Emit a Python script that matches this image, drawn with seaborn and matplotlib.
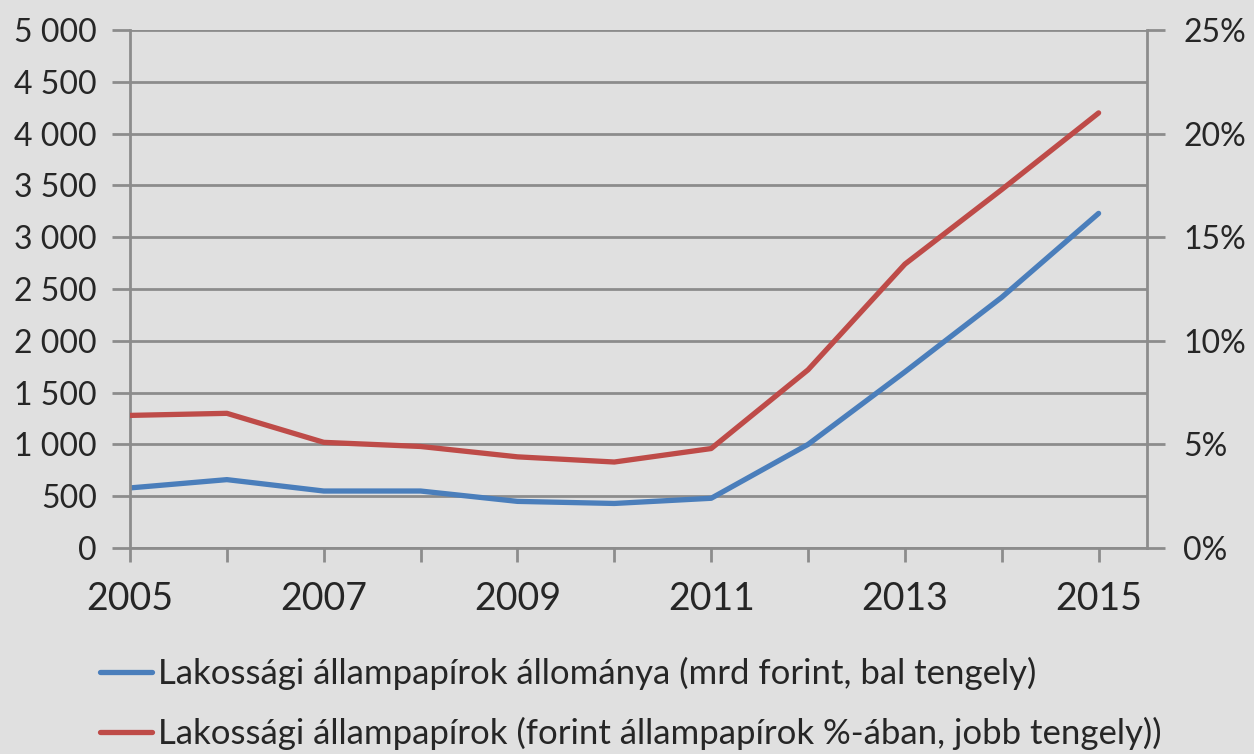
import matplotlib
matplotlib.use("Agg")
import matplotlib.pyplot as plt
import matplotlib.ticker as mticker
import seaborn as sns
import pandas as pd

# data
years = [2005, 2006, 2007, 2008, 2009, 2010, 2011, 2012, 2013, 2014, 2015]
allomany_mrd = [580, 660, 550, 550, 450, 430, 480, 1000, 1700, 2420, 3230]
arany_pct = [6.4, 6.5, 5.1, 4.9, 4.4, 4.15, 4.8, 8.6, 13.7, 17.3, 21.0]

label_blue = "Lakossági állampapírok állománya (mrd forint, bal tengely)"
label_red = "Lakossági állampapírok (forint állampapírok %-ában, jobb tengely))"

df = pd.DataFrame({"year": years, "mrd": allomany_mrd, "pct": arany_pct})

sns.set_style("white")
plt.rcParams['font.family'] = ['Lato', 'DejaVu Sans']

bg = "#e0e0e0"
grid_c = "#8c8c8c"
blue = "#4a7ebb"
red = "#be4b48"

fig = plt.figure(figsize=(12.54, 7.54), dpi=100, facecolor=bg)
ax = fig.add_axes([0.1037, 0.2732, 0.811, 0.687])
ax.set_facecolor(bg)
ax2 = ax.twinx()

sns.lineplot(data=df, x="year", y="mrd", ax=ax, color=blue, linewidth=3.8, label=label_blue, legend=False)
sns.lineplot(data=df, x="year", y="pct", ax=ax2, color=red, linewidth=3.8, label=label_red, legend=False)

ax.set_xlim(2005, 2015.5)
ax.set_ylim(0, 5000)
ax2.set_ylim(0, 25)
ax.set_yticks(range(0, 5001, 500))
ax2.set_yticks(range(0, 26, 5))
ax.set_xticks(years)
ax.set_xticklabels([str(y) if (y - 2005) % 2 == 0 else "" for y in years])
ax.yaxis.set_major_formatter(mticker.FuncFormatter(lambda v, p: f"{int(v):,}".replace(",", " ")))
ax2.yaxis.set_major_formatter(mticker.FuncFormatter(lambda v, p: f"{int(v)}%"))

ax.grid(axis="y", color=grid_c, linewidth=2)
ax.set_axisbelow(True)
ax.set_xlabel("")
ax.set_ylabel("")
ax2.set_ylabel("")

for a in (ax, ax2):
    for s in a.spines.values():
        s.set_visible(False)
ax.spines["left"].set_visible(True)
ax.spines["bottom"].set_visible(True)
ax2.spines["right"].set_visible(True)
for s in (ax.spines["left"], ax.spines["bottom"], ax2.spines["right"]):
    s.set_color(grid_c)
    s.set_linewidth(2)

ax.tick_params(axis="y", direction="out", length=13, width=2, color=grid_c, labelsize=23, pad=11, left=True)
ax.tick_params(axis="x", direction="out", length=10, width=2, color=grid_c, labelsize=27, pad=14, bottom=True)
ax2.tick_params(axis="y", direction="out", length=13, width=2, color=grid_c, labelsize=23, pad=13, right=True)

h1, l1 = ax.get_legend_handles_labels()
h2, l2 = ax2.get_legend_handles_labels()
fig.legend(h1 + h2, l1 + l2, loc="upper left", bbox_to_anchor=(0.069, 0.147), frameon=False,
           fontsize=25, handlelength=1.5, handletextpad=0.17, labelspacing=0.78, borderaxespad=0)

fig.savefig("out.png", dpi=100, facecolor=bg)
